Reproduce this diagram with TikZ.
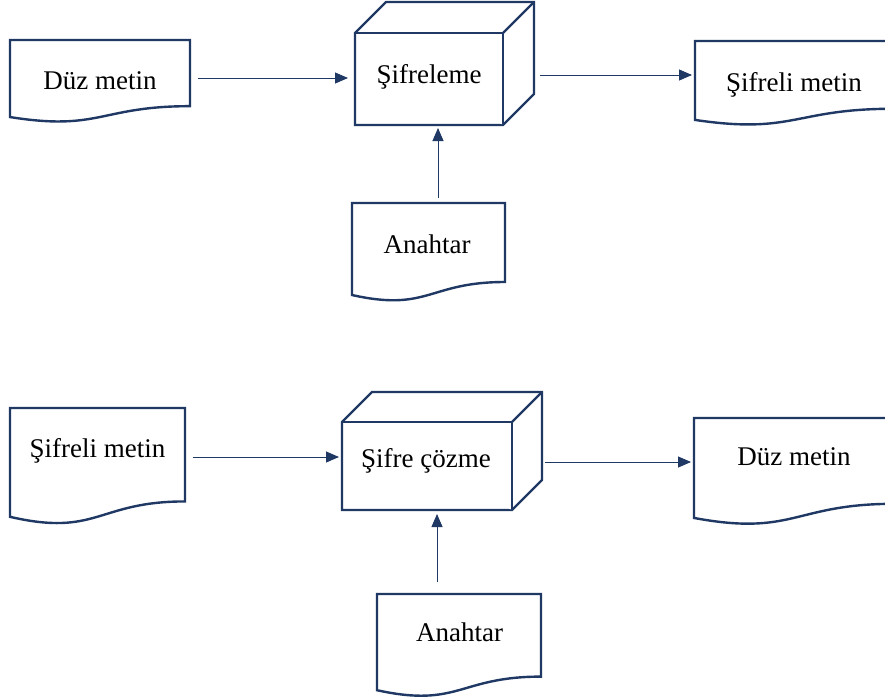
\documentclass[tikz,border=0pt]{standalone}
\usepackage{fontspec}
\setmainfont{Liberation Serif}
\usetikzlibrary{arrows.meta}
\definecolor{navy}{HTML}{1F3864}
\tikzset{
  docline/.style={draw=navy, line width=2.4pt, fill=white, line join=miter},
  cubeline/.style={draw=navy, line width=2.4pt, fill=white, line join=bevel},
  lbl/.style={font=\fontsize{27}{32}\selectfont, text=black, inner sep=0pt, anchor=base},
  conn/.style={draw=navy, line width=0.9pt, -{Triangle[length=13pt,width=11pt]}},
}
% document shape: #1 x, #2 y (top-left), #3 width, #4 height
\newcommand{\docshape}[4]{%
  \pgfmathsetmacro\docXr{#1+#3}%
  \pgfmathsetmacro\docXm{#1+0.5*#3}%
  \pgfmathsetmacro\docYr{#2+0.802*#4}%
  \pgfmathsetmacro\docYc{#2+1.108*#4}%
  \pgfmathsetmacro\docYl{#2+0.934*#4}%
  \draw[docline] (#1,#2) -- (\docXr,#2) -- (\docXr,\docYr)
     .. controls (\docXm,\docYr) and (\docXm,\docYc) .. (#1,\docYl) -- cycle;}
% cube: front face #1 x1, #2 y1, #3 x2, #4 y2, #5 depth
\newcommand{\cubeshape}[5]{%
  \pgfmathsetmacro\cbXa{#1+#5}%
  \pgfmathsetmacro\cbXb{#3+#5}%
  \pgfmathsetmacro\cbYa{#2-#5}%
  \pgfmathsetmacro\cbYb{#4-#5}%
  \fill[white] (#1,#2) -- (\cbXa,\cbYa) -- (\cbXb,\cbYa) -- (\cbXb,\cbYb) -- (#3,#4) -- (#1,#4) -- cycle;
  \draw[docline] (#1,#2) -- (\cbXa,\cbYa) -- (\cbXb,\cbYa) -- (\cbXb,\cbYb) -- (#3,#4) -- (#1,#4) -- cycle;
  \draw[cubeline] (#1,#2) -- (#3,#2) -- (#3,#4);
  \draw[cubeline] (#3,#2) -- (\cbXb,\cbYa);}
\begin{document}
\begin{tikzpicture}[x=1pt,y=-1pt]
\useasboundingbox (0,0) rectangle (885,699);
\clip (0,0) rectangle (885,699);
\fill[white] (0,0) rectangle (885,699);

% ---- top row ----
\docshape{10}{40}{180}{82.5}
\node[lbl] (pt1) at (100,89) {Düz metin};
\cubeshape{355}{33}{503}{125}{31}
\node[lbl] (enc) at (429,83) {Şifreleme};
\docshape{695}{41}{198}{84.5}
\node[lbl] (ct1) at (794,91) {Şifreli metin};
\docshape{352}{203}{153}{98.5}
\node[lbl] (key1) at (427,253) {Anahtar};

\coordinate (a1s) at (198,78);
\coordinate (a1e) at (348,78);
\coordinate (a2s) at (540,75);
\coordinate (a2e) at (692,75);
\coordinate (a3s) at (438,198);
\coordinate (a3e) at (438,128);
\draw[conn] (a1s) -- (a1e);
\draw[conn] (a2s) -- (a2e);
\draw[conn] (a3s) -- (a3e);

% ---- bottom row ----
\docshape{10}{408}{175}{116.5}
\node[lbl] (ct2) at (97.5,457) {Şifreli metin};
\cubeshape{342}{422}{512}{510}{30}
\node[lbl] (dec) at (426,467) {Şifre çözme};
\docshape{694}{418}{200}{107}
\node[lbl] (pt2) at (794,465) {Düz metin};
\docshape{377}{594}{164}{103}
\node[lbl] (key2) at (459.5,641) {Anahtar};

\coordinate (b1s) at (193,457);
\coordinate (b1e) at (339,457);
\coordinate (b2s) at (545,462);
\coordinate (b2e) at (691,462);
\coordinate (b3s) at (437,582);
\coordinate (b3e) at (437,514);
\draw[conn] (b1s) -- (b1e);
\draw[conn] (b2s) -- (b2e);
\draw[conn] (b3s) -- (b3e);
\end{tikzpicture}
\end{document}
